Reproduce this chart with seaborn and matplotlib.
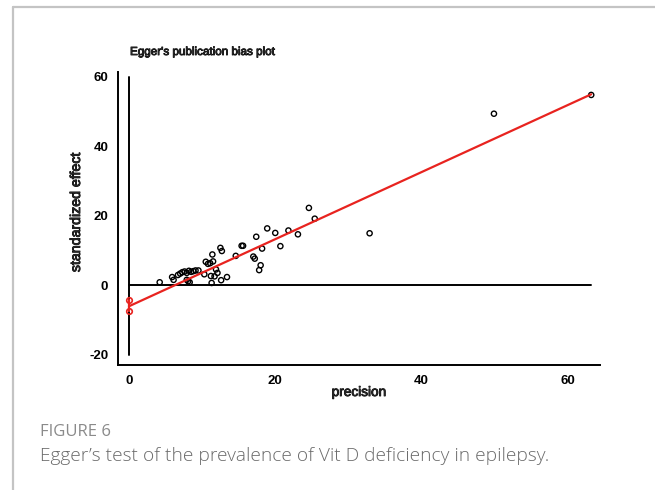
import matplotlib
matplotlib.use("Agg")
import matplotlib.pyplot as plt
import matplotlib.patheffects as pe
import seaborn as sns
import pandas as pd
import numpy as np
from matplotlib.lines import Line2D

# ---- data ----
precision = [4.2, 5.9, 6.1, 6.7, 7.0, 7.3, 7.6, 7.9, 8.2, 8.5, 8.8, 9.1, 9.5,
             8.1, 8.3, 7.9, 10.3, 10.5, 10.8, 11.1, 11.5, 11.4, 11.3, 11.2,
             11.9, 12.1, 11.7, 12.6, 13.4, 12.5, 12.7, 14.6, 15.4, 15.6,
             17.0, 17.2, 17.4, 18.2, 18.0, 17.8, 18.9, 20.0, 20.7, 21.8,
             23.1, 24.6, 25.4, 32.9, 49.9, 63.2]
std_effect = [0.9, 2.4, 1.6, 3.0, 3.4, 3.8, 4.0, 3.6, 4.2, 3.9, 4.1, 4.3, 4.3,
              1.2, 0.9, 1.6, 3.2, 6.8, 6.2, 6.4, 6.9, 8.9, 0.7, 2.7,
              4.6, 3.6, 2.6, 1.5, 2.4, 10.8, 9.9, 8.5, 11.4, 11.4,
              8.3, 7.7, 14.0, 10.6, 5.8, 4.4, 16.4, 15.1, 11.3, 15.8,
              14.7, 22.3, 19.2, 15.0, 49.4, 54.8]
intercept = -6.0
slope = 0.965
intercept_ci = [-4.3, -7.5]
x_ticks = [0, 20, 40, 60]
y_ticks = [-20, 0, 20, 40, 60]

sns.set_style("white")
plt.rcParams['font.family'] = ['Liberation Sans', 'DejaVu Sans']

heavy = [pe.withStroke(linewidth=0.6, foreground="black")]

fig = plt.figure(figsize=(6.55, 4.9), dpi=100)
ax = fig.add_axes([118/655, 1-365/490, (600-118)/655, (365-72)/490])

df = pd.DataFrame({"precision": precision, "effect": std_effect})

# reference lines
xmax = max(precision)
ax.plot([0, 0], [y_ticks[0], y_ticks[-1]], color="black", lw=1.4, zorder=1)
ax.plot([0, xmax], [0, 0], color="black", lw=1.4, zorder=1)

sns.scatterplot(data=df, x="precision", y="effect", ax=ax, marker="o",
                facecolor="none", edgecolor="black", s=14, linewidth=1.0,
                zorder=3)

line_df = pd.DataFrame({"x": [0, xmax],
                        "y": [intercept, intercept + slope * xmax]})
sns.lineplot(data=line_df, x="x", y="y", ax=ax, color="#e8231f", lw=1.6,
             zorder=4)
ci_df = pd.DataFrame({"x": [0, 0], "y": intercept_ci})
sns.lineplot(data=ci_df, x="x", y="y", ax=ax, color="#e8231f", lw=1.6,
             estimator=None, sort=False,
             marker="o", markersize=4, markerfacecolor="none",
             markeredgecolor="#e8231f", markeredgewidth=1.2, zorder=4)

ax.set_xlim(-1.5, 64.4)
ax.set_ylim(-22.9, 61.4)
ax.set_xticks(x_ticks)
ax.set_yticks(y_ticks)
ax.set_xticklabels([str(v) for v in x_ticks])
ax.set_yticklabels([str(v) for v in y_ticks])
ax.tick_params(axis="both", direction="out", length=5, width=1.2,
               labelsize=9.5, colors="black", pad=2)
for lab in ax.get_xticklabels() + ax.get_yticklabels():
    lab.set_fontweight("bold")
ax.set_xlabel("")
ax.set_ylabel("")
for side in ["top", "right"]:
    ax.spines[side].set_visible(False)
for side in ["left", "bottom"]:
    ax.spines[side].set_color("black")
    ax.spines[side].set_linewidth(1.4)

fig.text(359/655, 1-392/490, "precision", ha="center", va="center",
         fontsize=9.8, path_effects=heavy)
fig.text(76/655, 1-212/490, "standardized effect", ha="center", va="center",
         rotation=90, fontsize=10.2, path_effects=heavy)
fig.text(130/655, 1-52/490, "Egger's publication bias plot", ha="left",
         va="center", fontsize=8.4, path_effects=heavy)

# caption
fig.text(40/655, 1-432/490, "FIGURE 6", ha="left", va="center",
         fontsize=12, color="#8a8a8a", family=["Open Sans", "DejaVu Sans"])
fig.text(40/655, 1-456/490,
         "Egger\u2019s test of the prevalence of Vit D deficiency in epilepsy.",
         ha="left", va="center", fontsize=13.8, color="#6a6a6a",
         family=["Open Sans", "DejaVu Sans"], fontweight="light")

# page frame
fig.add_artist(Line2D([13/655, 1], [1-7/490, 1-7/490], color="#c4c4c4",
                      lw=1.6, transform=fig.transFigure))
fig.add_artist(Line2D([13/655, 13/655], [1-7/490, 0], color="#c4c4c4",
                      lw=1.6, transform=fig.transFigure))

fig.savefig("out.png", dpi=100, facecolor="white")
